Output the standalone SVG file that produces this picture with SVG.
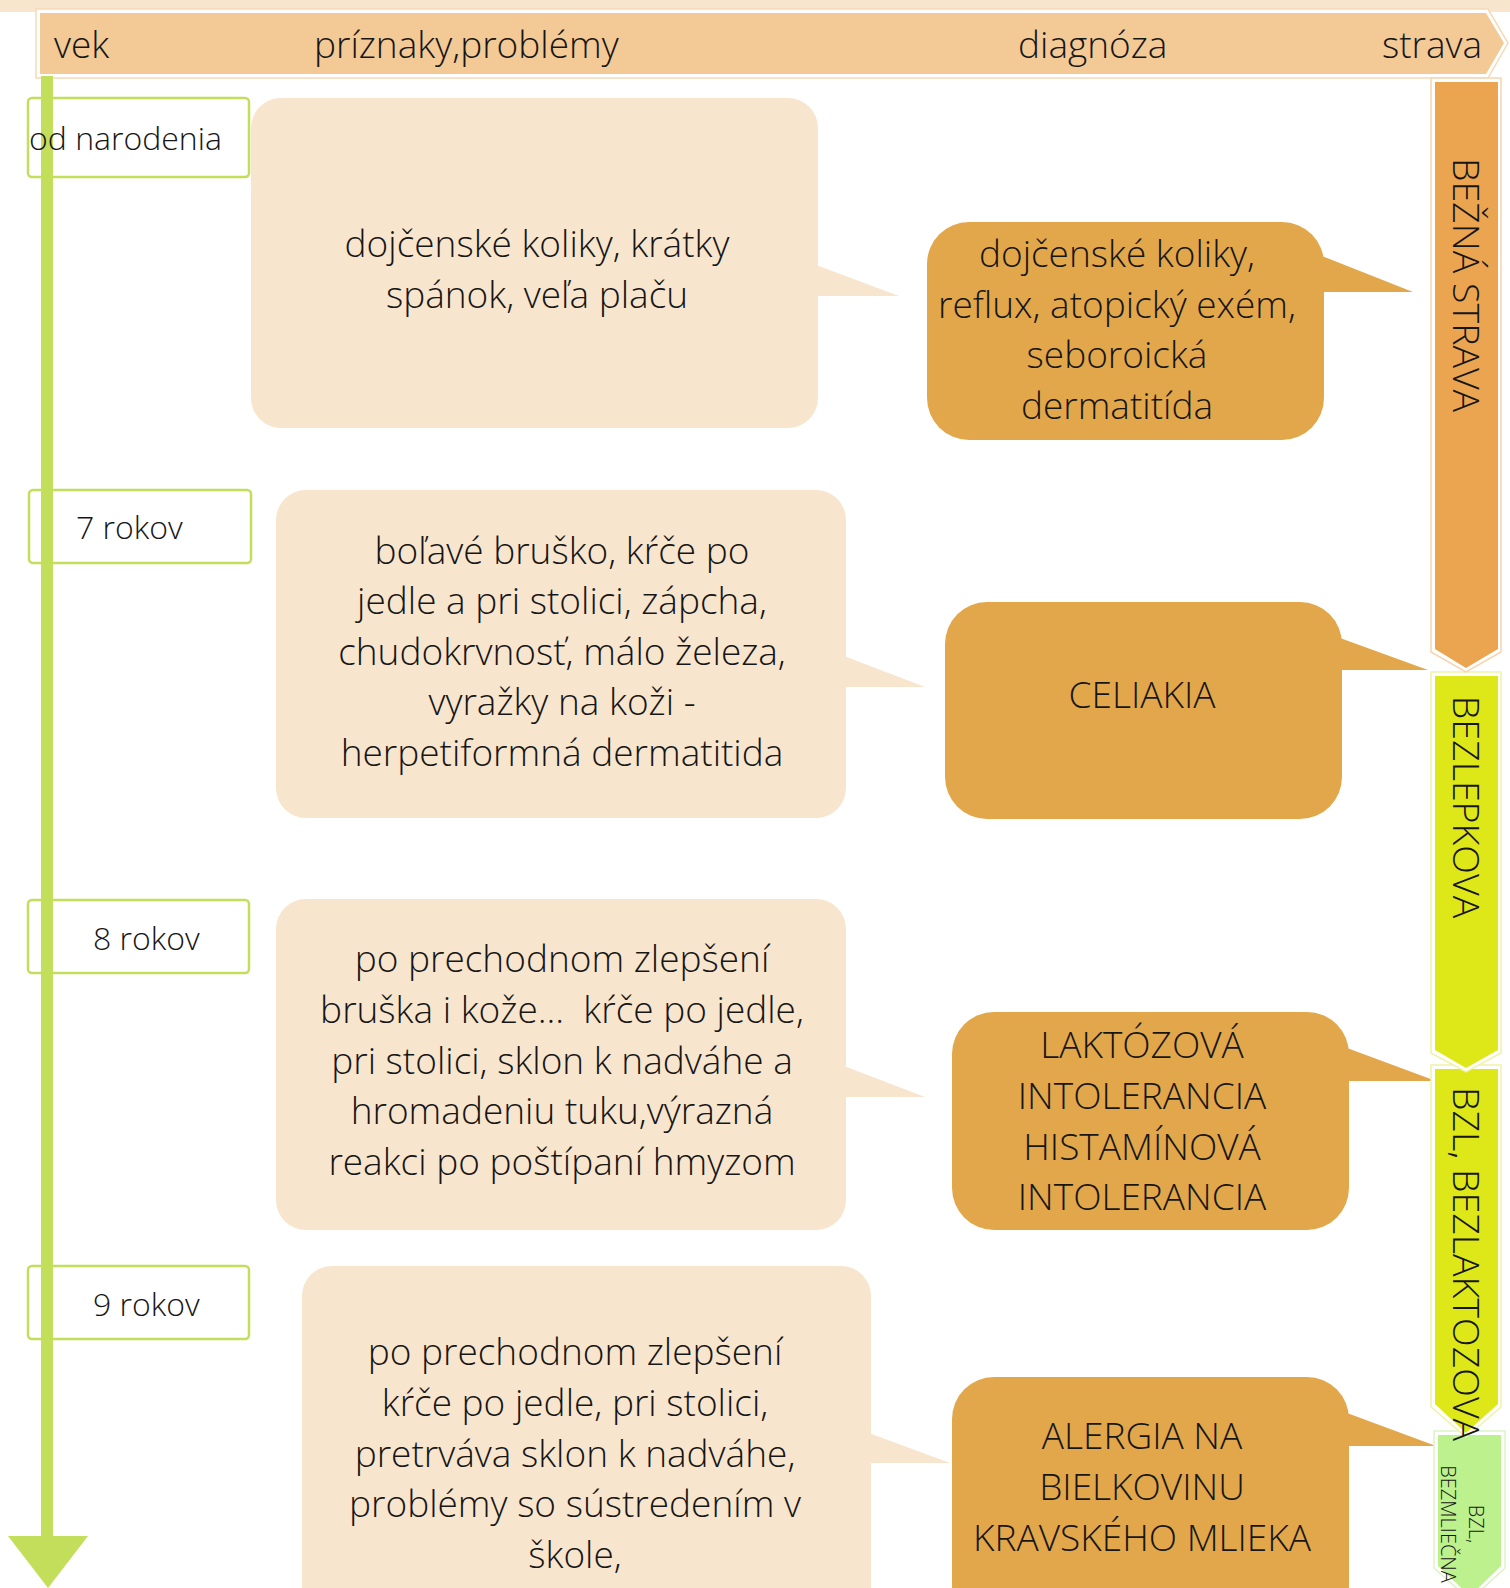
<svg xmlns="http://www.w3.org/2000/svg" width="1510" height="1588" viewBox="0 0 1510 1588">
<style>
text{font-family:"Open Sans","Noto Sans","Liberation Sans",sans-serif;font-weight:300;fill:#161616}
.h{font-size:37px}
.t{font-size:37px;text-anchor:middle}
.a{font-size:32px}
.v{font-size:37.5px;text-anchor:middle}
.s{font-size:20px;text-anchor:middle}
.sym{fill:#F8E5CE}
.dia{fill:#E3A74B}
.age{fill:none;stroke:#C3DE5A;stroke-width:2.5}
.pre{white-space:pre}
</style>
<rect x="0" y="0" width="1510" height="12" fill="#F8E5CE"/>
<g id="header">
<polygon points="36,9 1488,9 1508,43 1488,78 36,78" fill="#fff" stroke="#F6D9B6" stroke-width="1.5"/>
<polygon points="40,13 1486,13 1504,43 1486,74 40,74" fill="#F3C995"/>
<text class="h" x="54" y="58">vek</text>
<text class="h" x="314" y="58">príznaky,problémy</text>
<text class="h" x="1018" y="58">diagnóza</text>
<text class="h" x="1382" y="58">strava</text>
</g>
<g id="timeline">
<rect x="41" y="76" width="12" height="1462" fill="#C3DE5A"/>
<polygon points="8,1536 88,1536 48,1588" fill="#C3DE5A"/>
</g>
<g id="age1"><rect class="age" x="28" y="98" width="221" height="79" rx="4"/><text class="a" x="29" y="150">od narodenia</text></g>
<g id="age2"><rect class="age" x="29" y="490" width="222" height="73" rx="4"/><text class="a" x="76" y="539">7 rokov</text></g>
<g id="age3"><rect class="age" x="28" y="900" width="221" height="73" rx="4"/><text class="a" x="93" y="950">8 rokov</text></g>
<g id="age4"><rect class="age" x="28" y="1266" width="221" height="73" rx="4"/><text class="a" x="93" y="1316">9 rokov</text></g>

<g id="sym1">
<rect class="sym" x="251" y="98" width="567" height="330" rx="30"/>
<polygon class="sym" points="816,265 899,296 816,296"/>
<text class="t" x="537" y="257">dojčenské koliky, krátky</text>
<text class="t" x="537" y="308">spánok, veľa plaču</text>
</g>
<g id="sym2">
<rect class="sym" x="276" y="490" width="570" height="328" rx="30"/>
<polygon class="sym" points="844,656 925,687 844,687"/>
<text class="t" x="562" y="564">boľavé bruško, kŕče po</text>
<text class="t" x="562" y="614">jedle a pri stolici, zápcha,</text>
<text class="t" x="562" y="665">chudokrvnosť, málo železa,</text>
<text class="t" x="562" y="715">vyražky na koži -</text>
<text class="t" x="562" y="766">herpetiformná dermatitida</text>
</g>
<g id="sym3">
<rect class="sym" x="276" y="899" width="570" height="331" rx="30"/>
<polygon class="sym" points="844,1066 925,1097 844,1097"/>
<text class="t" x="562" y="972">po prechodnom zlepšení</text>
<text class="t pre" x="562" y="1023">bruška i kože...  kŕče po jedle,</text>
<text class="t" x="562" y="1074">pri stolici, sklon k nadváhe a</text>
<text class="t" x="562" y="1124">hromadeniu tuku,výrazná</text>
<text class="t" x="562" y="1175">reakci po poštípaní hmyzom</text>
</g>
<g id="sym4">
<rect class="sym" x="302" y="1266" width="569" height="360" rx="30"/>
<polygon class="sym" points="869,1433 950,1463 869,1463"/>
<text class="t" x="575" y="1365">po prechodnom zlepšení</text>
<text class="t" x="575" y="1416">kŕče po jedle, pri stolici,</text>
<text class="t" x="575" y="1467">pretrváva sklon k nadváhe,</text>
<text class="t" x="575" y="1517">problémy so sústredením v</text>
<text class="t" x="575" y="1568">škole,</text>
</g>

<g id="dia1">
<rect class="dia" x="927" y="222" width="397" height="218" rx="42"/>
<polygon class="dia" points="1322,256 1413,292 1322,292"/>
<text class="t" x="1117" y="267">dojčenské koliky,</text>
<text class="t" x="1117" y="318">reflux, atopický exém,</text>
<text class="t" x="1117" y="368">seboroická</text>
<text class="t" x="1117" y="419">dermatitída</text>
</g>
<g id="dia2">
<rect class="dia" x="945" y="602" width="397" height="217" rx="42"/>
<polygon class="dia" points="1340,638 1428,670 1340,670"/>
<text class="t" x="1142" y="708">CELIAKIA</text>
</g>
<g id="dia3">
<rect class="dia" x="952" y="1012" width="397" height="218" rx="42"/>
<polygon class="dia" points="1347,1048 1436,1081 1347,1081"/>
<text class="t" x="1142" y="1058">LAKTÓZOVÁ</text>
<text class="t" x="1142" y="1109">INTOLERANCIA</text>
<text class="t" x="1142" y="1160">HISTAMÍNOVÁ</text>
<text class="t" x="1142" y="1210">INTOLERANCIA</text>
</g>
<g id="dia4">
<rect class="dia" x="952" y="1377" width="397" height="250" rx="42"/>
<polygon class="dia" points="1347,1413 1436,1446 1347,1446"/>
<text class="t" x="1142" y="1449">ALERGIA NA</text>
<text class="t" x="1142" y="1500">BIELKOVINU</text>
<text class="t" x="1142" y="1551">KRAVSKÉHO MLIEKA</text>
</g>

<g id="diet4">
<polygon points="1434,1431 1505,1431 1505,1568 1470,1600 1434,1568" fill="#fff" stroke="#DDF3C6" stroke-width="1.5"/>
<polygon points="1438,1435 1501,1435 1501,1566 1470,1596 1438,1566" fill="#BDF18D"/>
<text class="s" transform="translate(1469,1524) rotate(90)">BZL,</text>
<text class="s" transform="translate(1441,1524) rotate(90)">BEZMLIEČNA</text>
</g>
<g id="diet3">
<polygon points="1431,1065 1501,1065 1501,1407 1466,1437 1431,1407" fill="#fff" stroke="#EEF3A6" stroke-width="1.5"/>
<polygon points="1435,1069 1498,1069 1498,1404 1466,1433 1435,1404" fill="#DEE818"/>
<text class="v" transform="translate(1453,1264) rotate(90)">BZL, BEZLAKTOZOVA</text>
</g>
<g id="diet2">
<polygon points="1431,672 1501,672 1501,1053 1466,1072 1431,1053" fill="#fff" stroke="#EEF3A6" stroke-width="1.5"/>
<polygon points="1435,676 1498,676 1498,1050 1466,1068 1435,1050" fill="#DEE818"/>
<text class="v" transform="translate(1453,807) rotate(90)">BEZLEPKOVA</text>
</g>
<g id="diet1">
<polygon points="1431,78 1501,78 1501,652 1466,672 1431,652" fill="#fff" stroke="#F6D5AE" stroke-width="1.5"/>
<polygon points="1435,82 1498,82 1498,649 1466,668 1435,649" fill="#EBA551"/>
<text class="v" transform="translate(1453,285) rotate(90)">BEŽNÁ STRAVA</text>
</g>
</svg>
